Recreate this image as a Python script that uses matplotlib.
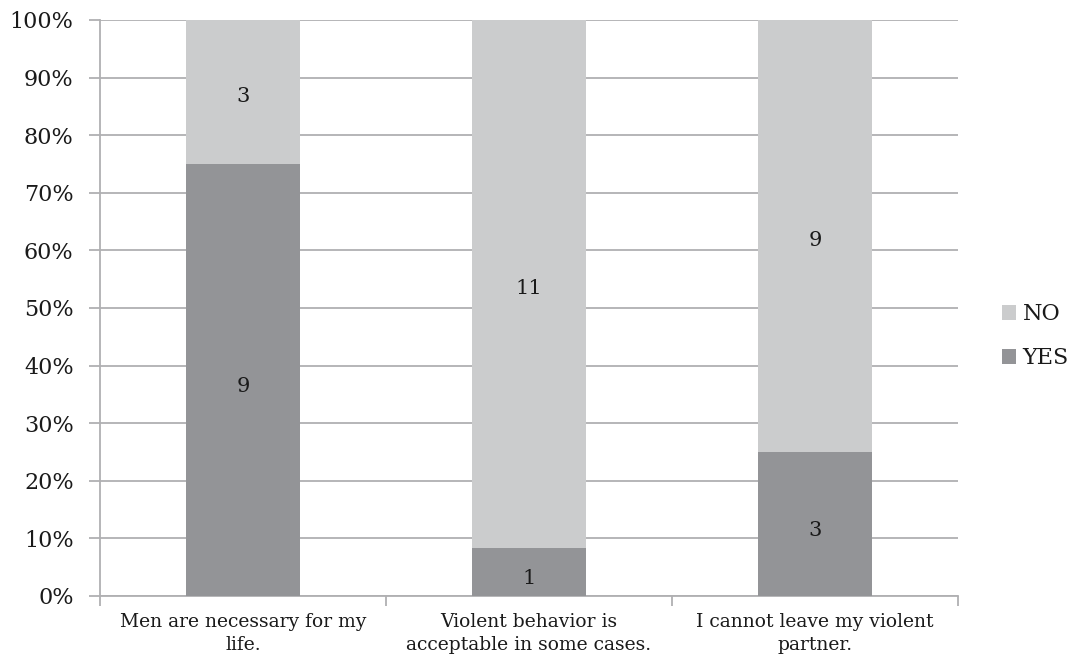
import numpy as np
import matplotlib.pyplot as plt
from matplotlib.ticker import PercentFormatter

# survey answers (counts)
categories = ["Men are necessary for my\nlife.",
              "Violent behavior is\nacceptable in some cases.",
              "I cannot leave my violent\npartner."]
yes_counts = [9, 1, 3]
no_counts = [3, 11, 9]

plt.rcParams['font.family'] = ['DejaVu Serif']

yes = np.array(yes_counts, dtype=float)
no = np.array(no_counts, dtype=float)
total = yes + no
yes_pct = yes / total * 100
no_pct = no / total * 100

fig = plt.figure(figsize=(10.83, 6.62), dpi=100)
ax = fig.add_axes([0.0923, 0.0997, 0.7923, 0.8701])

x = np.arange(len(categories))
c_yes = '#939497'
c_no = '#cbcccd'
w = 0.4

b1 = ax.bar(x, yes_pct, w, color=c_yes, label='YES', zorder=3)
b2 = ax.bar(x, no_pct, w, bottom=yes_pct, color=c_no, label='NO', zorder=3)

for i in range(len(x)):
    ax.text(x[i], yes_pct[i] / 2 - 1.2, str(yes_counts[i]), ha='center', va='center',
            fontsize=15, color='#1a1a1a', zorder=4)
    ax.text(x[i], yes_pct[i] + no_pct[i] / 2 - 0.7, str(no_counts[i]), ha='center',
            va='center', fontsize=15, color='#1a1a1a', zorder=4)

ax.set_xlim(-0.5, 2.5)
ax.set_ylim(0, 100)
ax.set_yticks(np.arange(0, 101, 10))
ax.yaxis.set_major_formatter(PercentFormatter(decimals=0))
ax.yaxis.grid(True, color='#b0b0b2', linewidth=1.3, zorder=0)

ax.set_xticks([-0.5, 0.5, 1.5, 2.5])
ax.set_xticklabels([])
ax.set_xticks(x, minor=True)
ax.set_xticklabels(categories, minor=True, fontsize=13.5, color='#1a1a1a',
                   linespacing=1.4)
ax.tick_params(axis='x', which='minor', length=0, pad=12)
ax.tick_params(axis='x', which='major', length=7, color='#b0b0b2', width=1.3)
ax.tick_params(axis='y', length=8, color='#b0b0b2', width=1.3, labelsize=16,
               labelcolor='#1a1a1a', pad=11)

for s in ['top', 'right']:
    ax.spines[s].set_visible(False)
for s in ['left', 'bottom']:
    ax.spines[s].set_color('#b0b0b2')
    ax.spines[s].set_linewidth(1.3)

handles = [b2, b1]
leg = fig.legend(handles, ['NO', 'YES'], loc='center left', bbox_to_anchor=(0.925, 0.492),
                 frameon=False, fontsize=16, handlelength=0.63, handleheight=0.63,
                 handletextpad=0.3, labelspacing=1.0, borderpad=0, borderaxespad=0)
for t in leg.get_texts():
    t.set_color('#1a1a1a')

fig.savefig('out.png', dpi=100)
